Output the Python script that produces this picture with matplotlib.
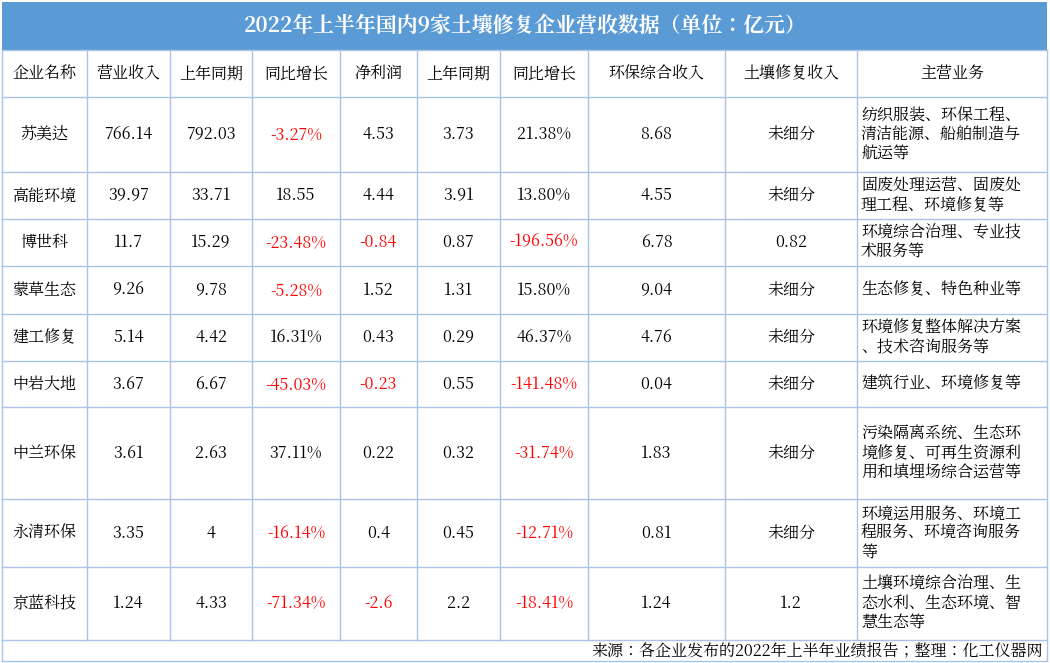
import matplotlib.pyplot as plt
from matplotlib import font_manager
from matplotlib.patches import Rectangle

# pick an installed CJK font file and register it by its own name
cjk_name = None
for f in font_manager.findSystemFonts():
    if 'CJK' in f or 'cjk' in f.lower():
        try:
            font_manager.fontManager.addfont(f)
            cjk_name = font_manager.FontProperties(fname=f).get_name()
            if 'SC' in cjk_name or 'SC' in f:
                break
        except Exception:
            pass
plt.rcParams['font.family'] = 'sans-serif'
plt.rcParams['font.sans-serif'] = ([cjk_name] if cjk_name else []) + ['Noto Sans CJK SC', 'DejaVu Sans']

title = '2022年上半年国内9家土壤修复企业营收数据（单位：亿元）'
headers = ['企业名称', '营业收入', '上年同期', '同比增长', '净利润', '上年同期',
           '同比增长', '环保综合收入', '土壤修复收入', '主营业务']
companies = ['苏美达', '高能环境', '博世科', '蒙草生态', '建工修复', '中岩大地',
             '中兰环保', '永清环保', '京蓝科技']
revenue = ['766.14', '39.97', '11.7', '9.26', '5.14', '3.67', '3.61', '3.35', '1.24']
revenue_prev = ['792.03', '33.71', '15.29', '9.78', '4.42', '6.67', '2.63', '4', '4.33']
revenue_growth = ['-3.27%', '18.55', '-23.48%', '-5.28%', '16.31%', '-45.03%',
                  '37.11%', '-16.14%', '-71.34%']
profit = ['4.53', '4.44', '-0.84', '1.52', '0.43', '-0.23', '0.22', '0.4', '-2.6']
profit_prev = ['3.73', '3.91', '0.87', '1.31', '0.29', '0.55', '0.32', '0.45', '2.2']
profit_growth = ['21.38%', '13.80%', '-196.56%', '15.80%', '46.37%', '-141.48%',
                 '-31.74%', '-12.71%', '-18.41%']
env_revenue = ['8.68', '4.55', '6.78', '9.04', '4.76', '0.04', '1.83', '0.81', '1.24']
soil_revenue = ['未细分', '未细分', '0.82', '未细分', '未细分', '未细分', '未细分', '未细分', '1.2']
business = ['纺织服装、环保工程、\n清洁能源、船舶制造与\n航运等',
            '固废处理运营、固废处\n理工程、环境修复等',
            '环境综合治理、专业技\n术服务等',
            '生态修复、特色种业等',
            '环境修复整体解决方案\n、技术咨询服务等',
            '建筑行业、环境修复等',
            '污染隔离系统、生态环\n境修复、可再生资源利\n用和填埋场综合运营等',
            '环境运用服务、环境工\n程服务、环境咨询服务\n等',
            '土壤环境综合治理、生\n态水利、生态环境、智\n慧生态等']
source = '来源：各企业发布的2022年上半年业绩报告；整理：化工仪器网'

col_x = [2, 87, 170, 252, 340, 417, 500, 588, 725, 857, 1047]
row_y = [50, 97, 172, 219, 266, 314, 361, 407, 499, 567, 640]
W, H = 1050, 663

fig = plt.figure(figsize=(10.5, 6.63), dpi=100)
ax = fig.add_axes([0, 0, 1, 1])
ax.set_xlim(0, W)
ax.set_ylim(H, 0)
ax.axis('off')

line_c = '#a9c4e4'
ax.add_patch(Rectangle((col_x[0], 2), col_x[-1] - col_x[0], row_y[0] - 2,
                       facecolor='#5b9bd5', edgecolor='none'))
ax.text(W / 2, 26, title, color='white', fontsize=15, fontweight='bold',
        ha='center', va='center')

for x in col_x:
    ax.plot([x, x], [row_y[0], row_y[-1]], color=line_c, lw=1)
for y in row_y + [661]:
    ax.plot([col_x[0], col_x[-1]], [y, y], color=line_c, lw=1)
ax.plot([col_x[0], col_x[0]], [row_y[-1], 661], color=line_c, lw=1)
ax.plot([col_x[-1], col_x[-1]], [row_y[-1], 661], color=line_c, lw=1)

hy = (row_y[0] + row_y[1]) / 2
for i, h in enumerate(headers):
    ax.text((col_x[i] + col_x[i + 1]) / 2, hy, h, fontsize=11.5,
            ha='center', va='center', color='black')

cols = [companies, revenue, revenue_prev, revenue_growth, profit, profit_prev,
        profit_growth, env_revenue, soil_revenue]
for r in range(len(companies)):
    cy = (row_y[r + 1] + row_y[r + 2]) / 2
    for c, vals in enumerate(cols):
        v = vals[r]
        red = c in (3, 4, 6) and v.startswith('-')
        ax.text((col_x[c] + col_x[c + 1]) / 2, cy, v, fontsize=11.5,
                ha='center', va='center', color='#ff0000' if red else 'black')
    ax.text(col_x[9] + 4, cy, business[r], fontsize=11.5, ha='left', va='center',
            linespacing=1.15)

ax.text(col_x[-1] - 4, 651, source, fontsize=11.5, ha='right', va='center')

fig.savefig('out.png', dpi=100)
